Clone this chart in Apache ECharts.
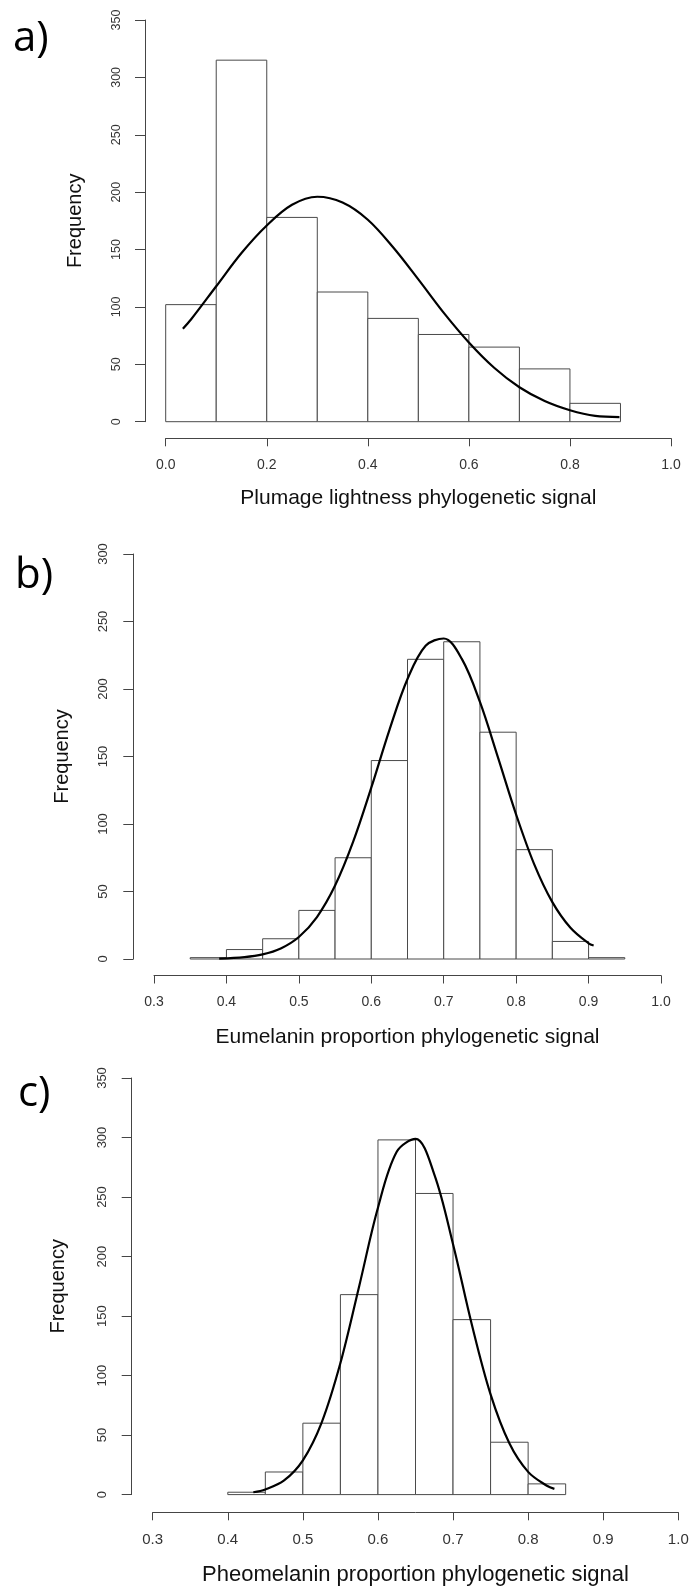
<!DOCTYPE html>
<html>
<head>
<meta charset="utf-8">
<script src="https://cdn.jsdelivr.net/npm/echarts@6/dist/echarts.min.js"></script>
<style>
html,body{margin:0;padding:0;background:#fff;}
#chart{width:692px;height:1587px;}
</style>
</head>
<body>
<div id="chart"></div>
<script>
// ---- Panel a: plumage lightness ----
const edgesA = [0.0, 0.1, 0.2, 0.3, 0.4, 0.5, 0.6, 0.7, 0.8, 0.9];
const countsA = [102, 315, 178, 113, 90, 76, 65, 46, 16];
const curveAx = [0.034, 0.05, 0.10, 0.15, 0.20, 0.25, 0.30, 0.35, 0.40, 0.45, 0.50, 0.55, 0.60, 0.65, 0.70, 0.75, 0.80, 0.85, 0.898];
const curveAy = [81, 89, 118, 147, 171, 189, 196, 191, 176, 152, 124, 95, 69, 47, 30, 18, 10, 5, 4];

// ---- Panel b: eumelanin proportion ----
const edgesB = [0.35, 0.40, 0.45, 0.50, 0.55, 0.60, 0.65, 0.70, 0.75, 0.80, 0.85, 0.90, 0.95];
const countsB = [1, 7, 15, 36, 75, 147, 222, 235, 168, 81, 13, 1];
const curveBx = [0.39, 0.425, 0.45, 0.475, 0.50, 0.525, 0.55, 0.575, 0.60, 0.625, 0.65, 0.675, 0.70, 0.725, 0.75, 0.775, 0.80, 0.825, 0.85, 0.875, 0.90, 0.907];
const curveBy = [0.3, 1.4, 3.4, 7.8, 16.3, 31.1, 54.4, 86.9, 126.9, 169.6, 207.4, 232, 237.4, 222.3, 190.4, 149.2, 107, 70.1, 42.1, 23.1, 11.6, 10];

// ---- Panel c: pheomelanin proportion ----
const edgesC = [0.40, 0.45, 0.50, 0.55, 0.60, 0.65, 0.70, 0.75, 0.80, 0.85];
const countsC = [2, 19, 60, 168, 298, 253, 147, 44, 9];
const curveCx = [0.434, 0.45, 0.475, 0.50, 0.525, 0.55, 0.575, 0.60, 0.625, 0.65, 0.675, 0.70, 0.725, 0.75, 0.775, 0.80, 0.825, 0.835];
const curveCy = [2.0, 4.3, 11.9, 28.8, 60.5, 110.5, 175.1, 241, 288, 298.8, 269.1, 210.4, 142.9, 84.2, 43.1, 19.1, 7.4, 4.8];

const panelLabels = ['a)', 'b)', 'c)'];
const xTitles = ['Plumage lightness phylogenetic signal', 'Eumelanin proportion phylogenetic signal', 'Pheomelanin proportion phylogenetic signal'];
const yTitle = 'Frequency';

function binsData(edges, counts) {
  return counts.map((c, i) => [edges[i], edges[i + 1], c]);
}
function pairs(xs, ys) { return xs.map((x, i) => [x, ys[i]]); }

const FONT = '"Liberation Sans", Arial, sans-serif';
const AX = '#454545';

function xAxisCfg(idx, min, max, interval, offset, name, labelSize, nameSize, nameGap) {
  return {
    gridIndex: idx, type: 'value', min: min, max: max, interval: interval,
    position: 'bottom', offset: offset,
    axisLine: { show: true, onZero: false, lineStyle: { color: AX, width: 1 } },
    axisTick: { show: true, length: 8, lineStyle: { color: AX, width: 1 } },
    axisLabel: { fontSize: labelSize, color: '#333', margin: 20, fontFamily: FONT,
      formatter: v => v.toFixed(1) },
    splitLine: { show: false },
    name: name, nameLocation: 'middle', nameGap: nameGap,
    nameTextStyle: { fontSize: nameSize, color: '#111', fontFamily: FONT }
  };
}
function yAxisCfg(idx, max, offset, labelSize, nameGap, margin) {
  return {
    gridIndex: idx, type: 'value', min: 0, max: max, interval: 50,
    position: 'left', offset: offset,
    axisLine: { show: true, onZero: false, lineStyle: { color: AX, width: 1 } },
    axisTick: { show: true, length: 10, lineStyle: { color: AX, width: 1 } },
    axisLabel: { fontSize: labelSize, color: '#333', margin: margin, rotate: 90, fontFamily: FONT },
    splitLine: { show: false },
    name: yTitle, nameLocation: 'middle', nameRotate: 90, nameGap: nameGap,
    nameTextStyle: { fontSize: 20, color: '#111', fontFamily: FONT }
  };
}

function histSeries(idx, data) {
  return {
    type: 'custom', xAxisIndex: idx, yAxisIndex: idx, data: data,
    renderItem: function (params, api) {
      const p0 = api.coord([api.value(0), api.value(2)]);
      const p1 = api.coord([api.value(1), 0]);
      return {
        type: 'rect',
        shape: { x: p0[0], y: p0[1], width: p1[0] - p0[0], height: p1[1] - p0[1] },
        style: { fill: '#fff', stroke: '#4a4a4a', lineWidth: 1 }
      };
    },
    silent: true, z: 2
  };
}
function curveSeries(idx, data) {
  return {
    type: 'line', xAxisIndex: idx, yAxisIndex: idx, data: data,
    smooth: 0.35, showSymbol: false, symbol: 'none',
    lineStyle: { color: '#000', width: 2.2 }, clip: false, silent: true, z: 3
  };
}

const chart = echarts.init(document.getElementById('chart'), null, { renderer: 'canvas' });
chart.setOption({
  backgroundColor: '#fff',
  animation: false,
  grid: [
    { left: 165.7, top: 20, width: 505.3, height: 401.7 },
    { left: 154, top: 554, width: 507, height: 405 },
    { left: 152.7, top: 1078, width: 525.6, height: 416.6 }
  ],
  xAxis: [
    xAxisCfg(0, 0, 1, 0.2, 16.6, xTitles[0], 14, 21, 49.5),
    xAxisCfg(1, 0.3, 1.0, 0.1, 16.5, xTitles[1], 14, 21, 51.5),
    xAxisCfg(2, 0.3, 1.0, 0.1, 17.7, xTitles[2], 15, 22, 51.5)
  ],
  yAxis: [
    yAxisCfg(0, 350, 20.7, 12.5, 60, 22),
    yAxisCfg(1, 300, 20.7, 13, 61, 23),
    yAxisCfg(2, 350, 21, 13, 63, 23)
  ],
  series: [
    histSeries(0, binsData(edgesA, countsA)),
    curveSeries(0, pairs(curveAx, curveAy)),
    histSeries(1, binsData(edgesB, countsB)),
    curveSeries(1, pairs(curveBx, curveBy)),
    histSeries(2, binsData(edgesC, countsC)),
    curveSeries(2, pairs(curveCx, curveCy))
  ],
  graphic: [
    { type: 'text', left: 13, top: 18, style: { text: panelLabels[0], font: '42px "Open Sans", sans-serif', fill: '#000' } },
    { type: 'text', left: 15, top: 555, style: { text: panelLabels[1], font: '42px "Open Sans", sans-serif', fill: '#000' } },
    { type: 'text', left: 18, top: 1073, style: { text: panelLabels[2], font: '42px "Open Sans", sans-serif', fill: '#000' } }
  ]
});
</script>
</body>
</html>
